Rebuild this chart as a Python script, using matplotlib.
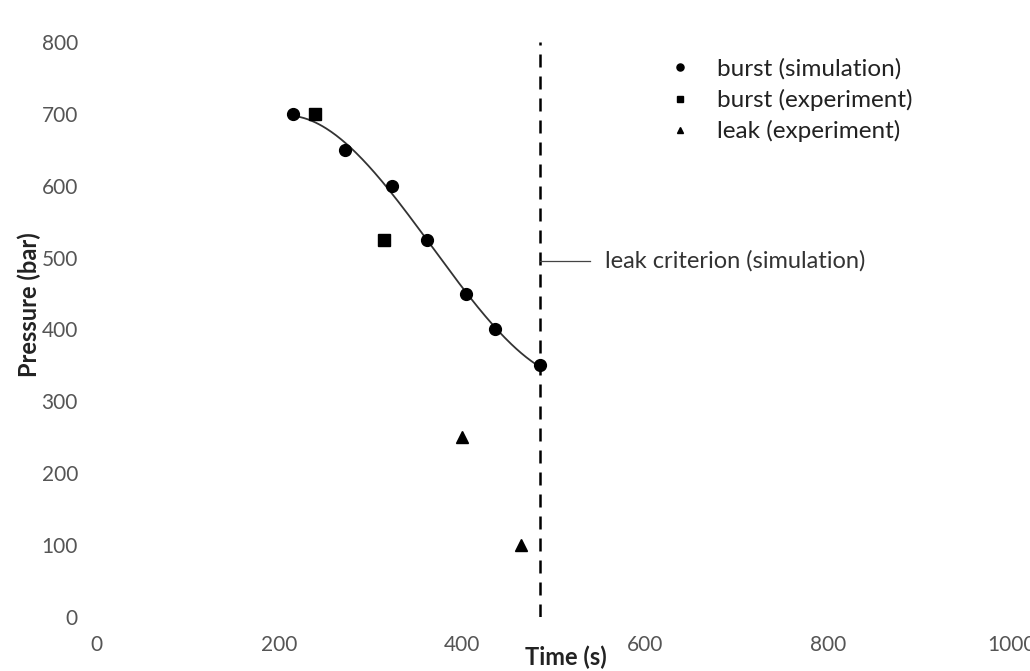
import numpy as np
import matplotlib
matplotlib.use("Agg")
import matplotlib.pyplot as plt

plt.rcParams["font.family"] = ["Lato", "DejaVu Sans"]

# burst pressure, simulation
sim_time = [215, 272, 323, 362, 404, 436, 485]
sim_pressure = [700, 650, 600, 525, 450, 400, 350]

# burst pressure, experiment
exp_time = [239, 315]
exp_pressure = [700, 525]

# leak, experiment
leak_time = [400, 464]
leak_pressure = [250, 100]

leak_criterion_time = 485
leak_label_pressure = 495

x_ticks = [0, 200, 400, 600, 800, 1000]
y_ticks = [0, 100, 200, 300, 400, 500, 600, 700, 800]


fig = plt.figure(figsize=(10.3, 6.71), dpi=100)
ax = fig.add_axes([0.0932, 0.0805, 0.8884, 0.8569])

# cubic trend line through the simulated burst points
coef = np.polyfit(sim_time, sim_pressure, 3)
tt = np.linspace(sim_time[0], sim_time[-1], 200)
ax.plot(tt, np.polyval(coef, tt), color="#333333", linewidth=1.3, zorder=2)

ax.plot(sim_time, sim_pressure, "o", color="black", markersize=8.5,
        label="burst (simulation)", zorder=3)
ax.plot(exp_time, exp_pressure, "s", color="black", markersize=8,
        label="burst (experiment)", zorder=3)
ax.plot(leak_time, leak_pressure, "^", color="black", markersize=8,
        label="leak (experiment)", zorder=3)

ax.plot([leak_criterion_time, leak_criterion_time], [0, 800], color="black",
        linewidth=1.8, dashes=(5.2, 3.6), zorder=1)
ax.plot([leak_criterion_time, 540], [leak_label_pressure, leak_label_pressure],
        color="#444444", linewidth=0.9)
ax.text(556, leak_label_pressure, "leak criterion (simulation)", fontsize=17,
        color="#333333", va="center", ha="left")

ax.set_xlim(0, 1000)
ax.set_ylim(0, 800)
ax.set_xticks(x_ticks)
ax.set_yticks(y_ticks)
ax.tick_params(length=0, labelsize=15, labelcolor="#555555")
ax.tick_params(axis="x", pad=13)
ax.tick_params(axis="y", pad=13)
for s in ax.spines.values():
    s.set_visible(False)

ax.set_xlabel("Time (s)", fontsize=17, fontweight="bold", color="#222222")
ax.xaxis.set_label_coords(0.514, -0.049)
ax.set_ylabel("Pressure (bar)", fontsize=17, fontweight="bold", color="#222222")
ax.yaxis.set_label_coords(-0.06, 0.543)

leg = ax.legend(loc="upper left", bbox_to_anchor=(0.612, 0.993), frameon=False,
                fontsize=17.5, markerscale=0.6, handlelength=1.0, borderpad=0,
                handletextpad=1.0, labelspacing=0.38, labelcolor="#222222")

fig.savefig("out.png", dpi=100)
